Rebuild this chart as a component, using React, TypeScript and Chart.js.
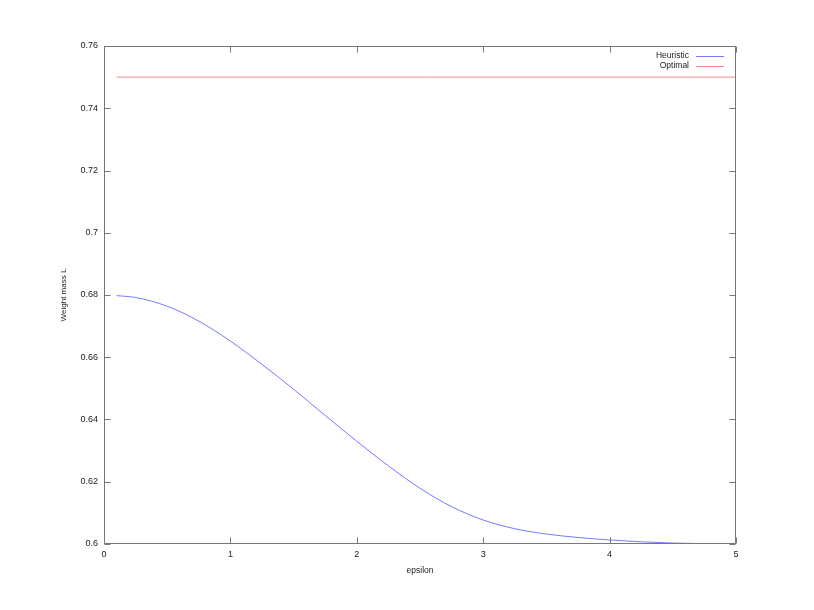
import React, { useEffect, useRef } from "react";
import { Chart, registerables } from "chart.js";

Chart.register(...registerables);

// Data
const epsilonValues = [0.1, 0.25, 0.5, 0.75, 1.0, 1.25, 1.5, 1.75, 2.0, 2.25, 2.5, 2.75, 3.0, 3.25, 3.5, 3.75, 4.0, 4.25, 4.5, 4.75, 5.0];
const heuristicValues = [0.6798, 0.6792, 0.6764, 0.6716, 0.6652, 0.6577, 0.6497, 0.6413, 0.633, 0.6251, 0.6179, 0.612, 0.6077, 0.6049, 0.6032, 0.6021, 0.6013, 0.6007, 0.6003, 0.6001, 0.6];
const optimalEpsilon = [0.1, 5.0];
const optimalValues = [0.75, 0.75];
const xTickValues = [0, 1, 2, 3, 4, 5];
const yTickValues = [0.6, 0.62, 0.64, 0.66, 0.68, 0.7, 0.72, 0.74, 0.76];

const FONT = "'Liberation Sans', Arial, Helvetica, sans-serif";
const FRAME = "#777777";
const TEXT = "#222222";

const framePlugin = {
  id: "gnuFrame",
  afterDatasetsDraw(chart: any) {
    const { ctx, chartArea } = chart;
    const { left, right, top, bottom } = chartArea;
    const xs = chart.scales.x;
    const ys = chart.scales.y;
    const tl = 6;
    ctx.save();
    ctx.strokeStyle = FRAME;
    ctx.lineWidth = 1;
    const L = Math.round(left) + 0.5;
    const R = Math.round(right) - 0.5;
    const T = Math.round(top) + 0.5;
    const B = Math.round(bottom) - 0.5;
    ctx.beginPath();
    ctx.rect(L, T, R - L, B - T);
    xTickValues.forEach((v) => {
      const px = Math.round(xs.getPixelForValue(v)) + 0.5;
      ctx.moveTo(px, B);
      ctx.lineTo(px, B - tl);
      ctx.moveTo(px, T);
      ctx.lineTo(px, T + tl);
    });
    yTickValues.forEach((v) => {
      const py = Math.round(ys.getPixelForValue(v)) + 0.5;
      ctx.moveTo(L, py);
      ctx.lineTo(L + tl, py);
      ctx.moveTo(R, py);
      ctx.lineTo(R - tl, py);
    });
    ctx.stroke();

    // Legend (gnuplot style: text right-aligned, then line sample)
    ctx.font = `8.5px ${FONT}`;
    ctx.textAlign = "right";
    ctx.textBaseline = "middle";
    chart.data.datasets.forEach((ds: any, i: number) => {
      const y = Math.round(top) + 10 + i * 10;
      ctx.fillStyle = TEXT;
      ctx.fillText(ds.label, right - 47, y);
      ctx.strokeStyle = ds.borderColor;
      ctx.beginPath();
      ctx.moveTo(right - 40, y + 0.5);
      ctx.lineTo(right - 12, y + 0.5);
      ctx.stroke();
    });
    ctx.restore();
  },
};

export default function App() {
  const canvasRef = useRef<HTMLCanvasElement | null>(null);

  useEffect(() => {
    if (!canvasRef.current) return;
    const chart = new Chart(canvasRef.current, {
      type: "line",
      data: {
        datasets: [
          {
            label: "Heuristic",
            data: epsilonValues.map((x, i) => ({ x, y: heuristicValues[i] })),
            borderColor: "rgb(120,120,255)",
            borderWidth: 1,
            pointRadius: 0,
            fill: false,
            cubicInterpolationMode: "monotone",
          },
          {
            label: "Optimal",
            data: optimalEpsilon.map((x, i) => ({ x, y: optimalValues[i] })),
            borderColor: "rgb(240,140,140)",
            borderWidth: 1,
            pointRadius: 0,
            fill: false,
          },
        ],
      },
      options: {
        animation: false,
        responsive: true,
        maintainAspectRatio: false,
        layout: { padding: { left: 0, top: 46, right: 78, bottom: 0 } },
        plugins: {
          legend: { display: false },
          tooltip: { enabled: false },
        },
        scales: {
          x: {
            type: "linear",
            min: 0,
            max: 5,
            afterBuildTicks: (s: any) => {
              s.ticks = xTickValues.map((v) => ({ value: v }));
            },
            afterFit: (s: any) => {
              s.height = 66;
            },
            grid: { display: false, drawTicks: false },
            border: { display: false },
            ticks: {
              padding: 5,
              color: TEXT,
              font: { family: FONT, size: 9 },
              callback: (v: any) => String(v),
            },
            title: {
              display: true,
              text: "epsilon",
              color: TEXT,
              font: { family: FONT, size: 8.5 },
              padding: { top: 0, bottom: 34 },
            },
          },
          y: {
            type: "linear",
            min: 0.6,
            max: 0.76,
            afterBuildTicks: (s: any) => {
              s.ticks = yTickValues.map((v) => ({ value: v }));
            },
            afterFit: (s: any) => {
              s.width = 104;
            },
            grid: { display: false, drawTicks: false },
            border: { display: false },
            ticks: {
              padding: 6,
              color: TEXT,
              font: { family: FONT, size: 9 },
              callback: (v: any) => String(Number(Number(v).toFixed(2))),
            },
            title: {
              display: true,
              text: "Weight mass L",
              color: TEXT,
              font: { family: FONT, size: 8 },
              padding: { top: 59, bottom: 0 },
            },
          },
        },
      },
      plugins: [framePlugin],
    } as any);
    return () => chart.destroy();
  }, []);

  return (
    <div
      style={{
        position: "fixed",
        left: 0,
        top: 0,
        width: 814,
        height: 610,
        background: "#ffffff",
      }}
    >
      <canvas ref={canvasRef} />
    </div>
  );
}
